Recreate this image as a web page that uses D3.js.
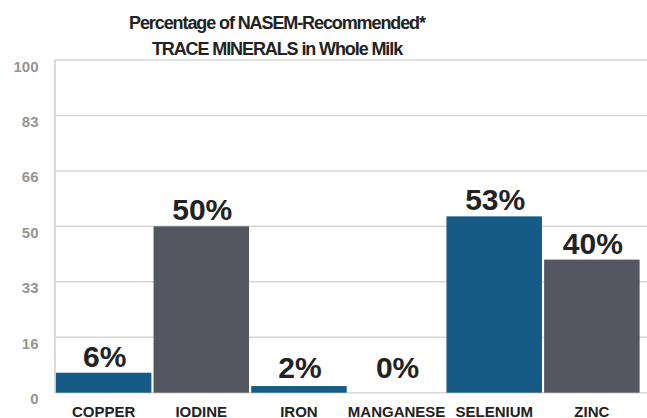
<!DOCTYPE html>
<html lang="en">
<head>
    <meta charset="UTF-8">
    <title>Trace Minerals in Whole Milk</title>
    <script src="https://cdnjs.cloudflare.com/ajax/libs/d3/7.8.5/d3.min.js"></script>
    <style>
        body { margin: 0; background: #fff; }
        svg { display: block; font-family: "Liberation Sans", Arial, Helvetica, sans-serif; }
    </style>
</head>
<body>
    <div id="chart"></div>

    <script>
        // Data
        const minerals = ["COPPER", "IODINE", "IRON", "MANGANESE", "SELENIUM", "ZINC"];
        const percents = [6, 50, 2, 0, 53, 40];
        const tickValues = [0, 100 / 6, 200 / 6, 50, 400 / 6, 500 / 6, 100];
        const tickLabels = ["0", "16", "33", "50", "66", "83", "100"];
        const titleLines = ["Percentage of NASEM-Recommended*", "TRACE MINERALS in Whole Milk"];

        const width = 647, height = 418;
        const margin = {top: 60, right: 0, bottom: 25.3, left: 55};

        const svg = d3.select("#chart")
            .append("svg")
            .attr("width", width)
            .attr("height", height);

        const x = d3.scaleBand()
            .domain(minerals)
            .range([margin.left + 0.5, 640])
            .paddingInner(0.022)
            .paddingOuter(0.004);

        const y = d3.scaleLinear()
            .domain([0, 100])
            .range([height - margin.bottom, margin.top]);

        const color = d3.scaleOrdinal()
            .domain(minerals)
            .range(["#155b85", "#545662", "#155b85", "#155b85", "#155b85", "#545662"]);

        // Gridlines
        svg.append("g")
            .selectAll("line")
            .data(tickValues)
            .join("line")
            .attr("x1", margin.left)
            .attr("x2", width)
            .attr("y1", d => y(d))
            .attr("y2", d => y(d))
            .attr("stroke", "#d6d6d6")
            .attr("stroke-width", 1.5);

        // Vertical axis line
        svg.append("line")
            .attr("x1", margin.left)
            .attr("x2", margin.left)
            .attr("y1", y(100))
            .attr("y2", y(0))
            .attr("stroke", "#d0d0d0")
            .attr("stroke-width", 1.5);

        // Y tick labels
        svg.append("g")
            .selectAll("text")
            .data(tickValues)
            .join("text")
            .attr("x", 38.5)
            .attr("y", d => y(d) + 11.5)
            .attr("text-anchor", "end")
            .attr("fill", "#959595")
            .attr("font-size", 15)
            .attr("font-weight", "bold")
            .text((d, i) => tickLabels[i]);

        // Bars
        svg.append("g")
            .selectAll("rect")
            .data(minerals)
            .join("rect")
            .attr("x", d => x(d))
            .attr("width", x.bandwidth())
            .attr("y", (d, i) => y(percents[i]))
            .attr("height", (d, i) => y(0) - y(percents[i]))
            .attr("fill", d => color(d));

        // Value labels
        svg.append("g")
            .selectAll("text")
            .data(minerals)
            .join("text")
            .attr("x", d => x(d) + x.bandwidth() / 2 + 1)
            .attr("y", (d, i) => Math.min(y(percents[i]) - 6, y(0) - 15))
            .attr("text-anchor", "middle")
            .attr("fill", "#222")
            .attr("font-size", 30)
            .attr("font-weight", "bold")
            .text((d, i) => percents[i] + "%");

        // Category labels
        svg.append("g")
            .selectAll("text")
            .data(minerals)
            .join("text")
            .attr("x", d => x(d) + x.bandwidth() / 2)
            .attr("y", 416.5)
            .attr("text-anchor", "middle")
            .attr("fill", "#222")
            .attr("font-size", 15)
            .attr("font-weight", "bold")
            .text(d => d);

        // Title
        svg.append("g")
            .selectAll("text")
            .data(titleLines)
            .join("text")
            .attr("x", 277)
            .attr("y", (d, i) => 29 + i * 26)
            .attr("text-anchor", "middle")
            .attr("fill", "#222")
            .attr("font-size", 18)
            .attr("font-weight", "bold")
            .attr("letter-spacing", -1.1)
            .text(d => d);
    </script>
</body>
</html>
